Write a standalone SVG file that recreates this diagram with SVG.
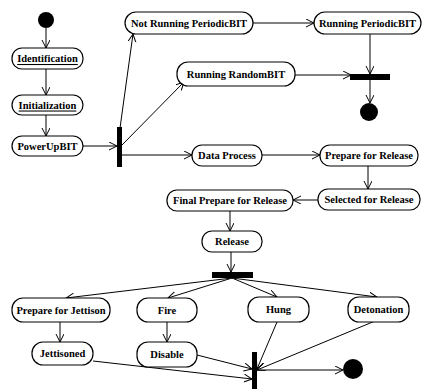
<svg xmlns="http://www.w3.org/2000/svg" width="423" height="389" viewBox="0 0 423 389">
<style>
.n rect{fill:#fff;stroke:#000;stroke-width:1.2}
.n text{font-family:"Liberation Serif","Times New Roman",serif;font-weight:bold;font-size:10.5px;text-anchor:middle;dominant-baseline:central;fill:#000}
.u{text-decoration:underline}
.bar{fill:#000}
.dot{fill:#000}
#edges line{stroke:#000;stroke-width:1;fill:none;marker-end:url(#a)}
</style>
<defs>
<marker id="a" markerUnits="userSpaceOnUse" markerWidth="10" markerHeight="10" refX="8" refY="4" orient="auto">
<path d="M0,0 L8,4 L0,8" fill="none" stroke="#000" stroke-width="1"/>
</marker>
</defs>
<rect width="423" height="389" fill="#fff"/>
<g id="edges">
<line x1="46" y1="28" x2="46" y2="48"/>
<line x1="46" y1="69" x2="46" y2="95"/>
<line x1="46" y1="115" x2="46" y2="136"/>
<line x1="83" y1="146" x2="117" y2="146"/>
<line x1="120" y1="128" x2="133" y2="34"/>
<line x1="122" y1="145" x2="184" y2="82"/>
<line x1="122" y1="155" x2="192" y2="155"/>
<line x1="253" y1="23" x2="314" y2="23"/>
<line x1="370" y1="34" x2="370" y2="74"/>
<line x1="295" y1="75" x2="351" y2="75"/>
<line x1="370" y1="80" x2="370" y2="103"/>
<line x1="262" y1="155" x2="320" y2="155"/>
<line x1="368" y1="166" x2="368" y2="189"/>
<line x1="318" y1="200" x2="293" y2="200"/>
<line x1="230" y1="211" x2="230" y2="231"/>
<line x1="231" y1="252" x2="231" y2="272"/>
<line x1="232" y1="278" x2="66" y2="298"/>
<line x1="232" y1="278" x2="168" y2="298"/>
<line x1="232" y1="278" x2="277" y2="297"/>
<line x1="232" y1="278" x2="377" y2="297"/>
<line x1="60" y1="322" x2="60" y2="342"/>
<line x1="167" y1="322" x2="167" y2="342"/>
<line x1="93" y1="361" x2="252" y2="379"/>
<line x1="197" y1="355" x2="252" y2="369"/>
<line x1="277" y1="322" x2="257" y2="369"/>
<line x1="375" y1="321" x2="257" y2="370"/>
<line x1="257" y1="370" x2="343" y2="370"/>
</g>
<g id="start"><circle class="dot" cx="46" cy="20" r="8"/></g>
<g id="identification" class="n"><rect x="12" y="48" width="71" height="21" rx="10"/><text class="u" x="47.5" y="58.5">Identification</text></g>
<g id="initialization" class="n"><rect x="12" y="95" width="71" height="20" rx="10"/><text class="u" x="47.5" y="105">Initialization</text></g>
<g id="powerupbit" class="n"><rect x="12" y="136" width="71" height="20" rx="10"/><text x="47.5" y="146">PowerUpBIT</text></g>
<g id="fork1"><rect class="bar" x="117" y="127" width="5" height="40"/></g>
<g id="notrunning" class="n"><rect x="125" y="12" width="128" height="22" rx="11"/><text x="189" y="23">Not Running PeriodicBIT</text></g>
<g id="runningperiodic" class="n"><rect x="314" y="12" width="107" height="22" rx="11"/><text x="367.5" y="23">Running PeriodicBIT</text></g>
<g id="runningrandom" class="n"><rect x="177" y="62" width="118" height="24" rx="11"/><text x="236" y="74">Running RandomBIT</text></g>
<g id="join1"><rect class="bar" x="350" y="74" width="40" height="6"/></g>
<g id="final1"><circle class="dot" cx="369" cy="112" r="9"/></g>
<g id="dataprocess" class="n"><rect x="192" y="145" width="70" height="21" rx="10"/><text x="227" y="155.5">Data Process</text></g>
<g id="preparerelease" class="n"><rect x="320" y="145" width="98" height="21" rx="10"/><text x="369" y="155.5">Prepare for Release</text></g>
<g id="selected" class="n"><rect x="318" y="189" width="102" height="21" rx="10"/><text x="369" y="199.5">Selected for Release</text></g>
<g id="finalprepare" class="n"><rect x="167" y="190" width="126" height="21" rx="10"/><text x="230" y="200.5">Final Prepare for Release</text></g>
<g id="release" class="n"><rect x="202" y="231" width="60" height="21" rx="10"/><text x="232" y="241.5">Release</text></g>
<g id="fork2"><rect class="bar" x="212" y="272" width="41" height="6"/></g>
<g id="preparejettison" class="n"><rect x="12" y="298" width="98" height="24" rx="11"/><text x="61" y="310">Prepare for Jettison</text></g>
<g id="fire" class="n"><rect x="137" y="298" width="60" height="24" rx="11"/><text x="167" y="310">Fire</text></g>
<g id="hung" class="n"><rect x="248" y="297" width="61" height="25" rx="11"/><text x="278.5" y="309.5">Hung</text></g>
<g id="detonation" class="n"><rect x="348" y="297" width="61" height="25" rx="11"/><text x="378.5" y="309.5">Detonation</text></g>
<g id="jettisoned" class="n"><rect x="32" y="342" width="61" height="23" rx="11"/><text x="62.5" y="353.5">Jettisoned</text></g>
<g id="disable" class="n"><rect x="137" y="342" width="60" height="25" rx="11"/><text x="167" y="354.5">Disable</text></g>
<g id="join2"><rect class="bar" x="252" y="352" width="5" height="40"/></g>
<g id="final2"><circle class="dot" cx="353" cy="369" r="10"/></g>
</svg>
